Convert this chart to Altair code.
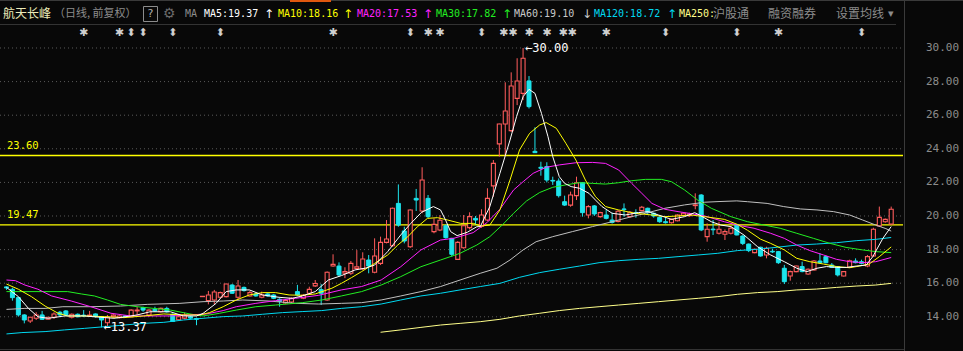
import altair as alt
import pandas as pd

W, H = 963, 351
BG = "#080808"
UP = "#ff5c5c"
DOWN = "#1de4ec"
MONO = "DejaVu Sans Mono"
CJK = "Noto Sans CJK SC"

# ---------------- data ----------------
opens = [15.78, 15.64, 15.14, 14.11, 13.75, 13.91, 14.11, 13.85, 13.97, 14.27,
         14.35, 13.97, 14.15, 14.10, 14.05, 14.17, 14.01, 13.65, 14.00, 13.95,
         14.05, 14.00, 14.35, 14.55, 14.10, 14.45, 14.30, 14.50, 14.15, 13.82,
         13.92, 14.00, 13.90, 15.20, 14.96, 15.00, 15.16, 15.20, 15.89, 15.16,
         15.75, 15.24, 15.36, 15.16, 15.36, 15.30, 15.04, 14.82, 14.88, 15.50,
         15.10, 15.40, 15.84, 15.62, 15.00, 17.02, 17.02, 16.60, 16.59, 16.88,
         16.85, 17.38, 16.65, 17.18, 18.43, 18.23, 20.75, 19.11, 18.17, 21.05,
         20.30, 21.05, 19.07, 19.17, 19.42, 18.67, 17.42, 18.11, 19.31, 19.86,
         19.40, 19.76, 21.79, 24.29, 25.48, 25.08, 27.00, 27.30, 28.04, 23.85,
         22.90, 22.94, 22.12, 22.08, 20.85, 20.65, 21.21, 21.98, 20.06, 20.60,
         19.96, 20.06, 19.76, 19.68, 20.42, 19.96, 20.20, 20.32, 20.46, 20.16,
         19.92, 19.66, 19.60, 19.72, 20.04, 20.02, 20.62, 21.25, 18.77, 19.22,
         18.97, 18.91, 18.97, 19.46, 18.81, 18.33, 17.82, 18.14, 17.68, 17.90,
         17.88, 16.89, 16.43, 16.69, 16.99, 16.55, 16.79, 17.32, 17.58, 17.08,
         16.99, 16.43, 16.94, 17.32, 17.28, 17.02, 17.62, 19.41, 19.66, 19.52]
highs = [15.80, 15.73, 15.20, 14.15, 14.00, 14.27, 14.35, 13.99, 14.27, 14.35,
         14.40, 14.20, 14.20, 14.40, 14.35, 14.20, 14.05, 14.11, 14.15, 14.10,
         14.10, 14.45, 14.60, 14.60, 14.45, 14.60, 14.55, 14.60, 14.20, 14.10,
         14.25, 14.05, 13.95, 15.22, 15.54, 15.60, 15.50, 15.97, 15.95, 16.19,
         15.80, 15.55, 15.40, 15.50, 15.40, 15.35, 15.10, 15.00, 15.15, 15.90,
         15.35, 15.79, 16.19, 15.95, 16.70, 17.72, 17.24, 16.95, 17.32, 17.97,
         17.84, 17.68, 18.67, 18.77, 19.76, 20.50, 21.88, 19.36, 20.40, 21.61,
         22.90, 21.25, 19.86, 20.06, 19.50, 18.70, 18.50, 20.06, 20.22, 20.00,
         20.40, 21.65, 23.33, 25.50, 27.96, 28.55, 29.39, 30.00, 28.33, 25.28,
         23.23, 23.20, 22.34, 22.24, 21.21, 21.45, 22.34, 22.00, 20.65, 20.65,
         20.25, 20.36, 20.20, 20.36, 20.75, 20.30, 20.40, 20.60, 20.50, 20.20,
         19.98, 19.92, 19.85, 20.10, 20.20, 20.20, 21.35, 21.30, 19.56, 19.76,
         19.66, 19.20, 19.40, 19.50, 18.85, 18.36, 18.06, 18.17, 18.17, 18.05,
         17.92, 17.09, 16.75, 17.05, 17.28, 16.88, 17.38, 17.78, 17.65, 17.20,
         17.02, 16.72, 17.40, 17.48, 17.40, 17.68, 19.30, 20.56, 19.85, 20.56]
lows = [15.60, 14.96, 14.01, 13.61, 13.63, 13.81, 13.81, 13.83, 13.87, 14.01,
        14.05, 13.90, 13.97, 13.98, 14.00, 13.95, 13.37, 13.45, 13.95, 13.90,
        13.95, 13.98, 14.10, 14.30, 14.00, 14.30, 14.25, 14.25, 13.70, 13.78,
        13.85, 13.88, 13.50, 15.18, 14.74, 14.76, 15.10, 15.15, 15.36, 15.00,
        15.50, 15.20, 15.20, 15.10, 15.20, 15.05, 14.60, 14.78, 14.82, 15.25,
        15.05, 15.35, 15.78, 14.70, 14.95, 16.98, 16.39, 16.30, 16.49, 16.80,
        16.80, 16.59, 16.59, 17.08, 18.37, 18.17, 19.36, 18.37, 18.10, 20.30,
        20.16, 19.86, 18.97, 19.10, 18.65, 17.58, 17.40, 18.05, 19.20, 19.46,
        19.30, 19.70, 21.15, 23.53, 23.57, 25.00, 26.60, 26.90, 26.40, 23.77,
        22.40, 22.00, 21.85, 21.10, 20.60, 20.55, 20.95, 19.96, 19.86, 20.00,
        19.90, 19.80, 19.55, 19.62, 19.96, 19.90, 19.90, 20.28, 20.10, 19.90,
        19.60, 19.55, 19.55, 19.68, 19.98, 19.95, 20.40, 19.10, 18.47, 18.87,
        18.90, 18.57, 18.90, 18.85, 18.27, 17.85, 17.78, 17.58, 17.48, 17.80,
        17.15, 15.95, 16.15, 16.65, 16.65, 16.50, 16.75, 17.18, 17.18, 16.90,
        16.40, 16.40, 16.90, 17.18, 17.12, 16.95, 17.58, 19.35, 19.60, 19.47]
closes = [15.72, 15.14, 14.11, 13.81, 13.97, 14.11, 13.85, 13.97, 14.17, 14.11,
          14.11, 14.15, 14.00, 14.05, 14.10, 14.01, 13.81, 13.97, 14.10, 14.05,
          14.00, 14.40, 14.40, 14.40, 14.40, 14.35, 14.50, 14.30, 13.72, 14.00,
          14.10, 13.92, 13.85, 15.22, 15.30, 15.48, 15.44, 15.95, 15.40, 15.83,
          15.56, 15.44, 15.24, 15.30, 15.24, 15.10, 14.92, 14.96, 15.10, 15.30,
          15.28, 15.63, 15.98, 15.40, 16.65, 17.12, 16.49, 16.70, 17.18, 16.98,
          17.44, 17.02, 17.62, 18.43, 18.63, 20.46, 19.46, 18.51, 20.36, 20.95,
          22.14, 19.96, 19.50, 19.75, 18.71, 17.72, 18.43, 19.42, 19.96, 19.76,
          20.06, 21.05, 23.13, 25.48, 26.25, 27.74, 28.04, 29.39, 26.51, 23.77,
          22.84, 22.14, 22.08, 21.21, 20.65, 21.25, 21.98, 20.20, 20.56, 20.12,
          20.20, 19.86, 19.62, 20.28, 20.38, 20.22, 20.15, 20.52, 20.20, 20.00,
          19.66, 19.60, 19.80, 20.06, 20.16, 20.12, 20.66, 19.17, 19.21, 19.18,
          19.21, 19.07, 19.27, 18.87, 18.37, 17.94, 18.02, 17.62, 18.08, 17.86,
          17.22, 16.09, 16.69, 17.02, 16.69, 16.83, 17.32, 17.22, 17.22, 16.94,
          16.49, 16.69, 17.34, 17.22, 17.18, 17.58, 19.21, 19.92, 19.80, 20.40]

ma5 = [(0, 15.75), (2, 15.2), (3.7, 14.5), (5.3, 14.0), (7, 13.91), (9.8, 14.05), (13.1, 14.05),
       (15.9, 13.97), (18.1, 13.91), (20, 14.0), (22, 14.11), (24.2, 14.3), (27.6, 14.3), (29.8, 14.05),
       (32, 14.05), (33.1, 14.2), (35.3, 14.8), (37, 15.5), (38.7, 15.6), (40.9, 15.6), (43.1, 15.3),
       (45.9, 15.16), (48.1, 15.1), (49.8, 15.24), (52, 15.5), (54.2, 16.19), (56.4, 16.45),
       (58.7, 16.79), (60.5, 16.9), (62, 17.08), (64.2, 17.88), (66.4, 18.87), (68.1, 19.56),
       (69.9, 20.22), (71.9, 20.56), (73.1, 20.36), (73.95, 19.76), (74.8, 19.07), (75.9, 18.83),
       (77.6, 19.03), (79.2, 19.36), (79.8, 19.37), (81.4, 20.56), (83.1, 22.54), (84.8, 24.52),
       (85.9, 25.91), (87, 27.1), (88, 27.54), (89, 27.3), (90.1, 26.11), (91.2, 24.72), (92, 23.53),
       (93.1, 22.34), (94, 21.94), (95.1, 21.75), (96.5, 21.65), (98.1, 21.35), (99.2, 20.95),
       (100.3, 20.56), (102, 20.16), (104.2, 20.06), (106.4, 20.2), (108.1, 20.26), (109.8, 20.06),
       (112, 19.8), (114.2, 19.96), (115.9, 20.2), (116.7, 20.06), (118.7, 19.66), (120.3, 19.46),
       (122, 19.37), (124.2, 18.87), (126.5, 18.17), (128.7, 17.68), (131, 17.28), (133.1, 16.89),
       (134.8, 16.69), (136.5, 16.89), (138.1, 16.99), (139.8, 16.94), (141.5, 16.94), (143.1, 17.02),
       (144.8, 17.08), (145.9, 17.58), (147.6, 18.67), (149, 19.37)]
ma10 = [(0, 15.95), (2, 15.64), (4.2, 15.2), (6.5, 14.64), (8.7, 14.21), (10.3, 14.05), (13.1, 14.05),
        (16.5, 14.01), (19.8, 13.95), (23.1, 14.05), (26.5, 14.17), (29.8, 14.11), (32.6, 14.11),
        (34.2, 14.25), (36.5, 14.6), (38.7, 15.0), (40.9, 15.3), (43.1, 15.44), (45.3, 15.44),
        (47.6, 15.3), (49.8, 15.28), (52, 15.36), (54.8, 15.7), (56.4, 15.99), (58.1, 16.33),
        (59.8, 16.69), (62, 17.18), (64.2, 17.68), (65.9, 18.27), (67.6, 18.77), (69.2, 19.36),
        (70.9, 19.86), (72.6, 19.9), (74.3, 19.76), (76.5, 19.56), (78.7, 19.56), (79.8, 19.4),
        (81.4, 19.46), (83.1, 20.36), (84.8, 22.14), (86.4, 23.93), (88.1, 24.92), (89.8, 25.42),
        (90.9, 25.56), (92.6, 25.22), (94.2, 24.33), (95.9, 23.33), (97.5, 22.14), (99.2, 21.15),
        (100.9, 20.56), (103.1, 20.36), (105.9, 20.16), (108.7, 20.06), (110.9, 19.96), (113.1, 20.0),
        (115.3, 20.06), (117.6, 19.96), (120.9, 19.8), (123.1, 19.5), (124.8, 19.15), (127, 18.62),
        (128.7, 18.37), (131, 17.98), (133.1, 17.48), (135.3, 17.28), (137.6, 17.14), (139.8, 16.99),
        (142, 16.92), (143.7, 17.02), (145.3, 17.14), (147, 17.58), (149, 18.16)]
ma20 = [(0, 16.19), (1.5, 16.15), (3.1, 15.89), (5.3, 15.64), (7.6, 15.24), (10.9, 14.94), (14.2, 14.6),
        (17.6, 14.21), (20.9, 14.05), (27.6, 14.05), (30.9, 14.11), (33.7, 14.17), (36.5, 14.37),
        (38.7, 14.6), (42, 14.8), (45.3, 14.96), (48.7, 15.1), (52.6, 15.28), (56.4, 15.6), (59.8, 15.8),
        (63.1, 16.19), (66.4, 16.98), (69.8, 17.98), (73.1, 18.57), (75.3, 18.67), (78.6, 19.01),
        (80.9, 19.6), (83.1, 20.4), (85.4, 21.55), (87, 22.04), (88.7, 22.54), (90.9, 22.9),
        (93.1, 23.04), (95.9, 23.17), (98.7, 23.19), (100.9, 23.13), (103.1, 22.74), (105.3, 21.94),
        (107, 21.35), (108.7, 20.75), (110.9, 20.4), (113.1, 20.26), (115.3, 20.14), (117.6, 20.0),
        (120.9, 19.66), (123.1, 19.46), (125.9, 19.27), (128.7, 18.97), (131, 18.67), (133.1, 18.27),
        (135.3, 17.94), (137.6, 17.68), (139.8, 17.42), (142, 17.28), (144.2, 17.22), (146.4, 17.28),
        (149, 17.53)]
ma30 = [(0, 15.5), (10.3, 15.5), (12.6, 15.36), (14.8, 15.24), (17, 15.0), (19.2, 14.74), (22, 14.6),
        (24.8, 14.5), (27.6, 14.4), (30.9, 14.17), (33.1, 14.05), (35.9, 14.21), (38.7, 14.4), (42, 14.6),
        (45.3, 14.7), (49.8, 14.84), (53.1, 15.0), (56.4, 15.24), (59.8, 15.5), (63.1, 15.89),
        (66.4, 16.39), (69.8, 16.98), (73.1, 17.38), (76.4, 17.78), (79.2, 18.27), (81.4, 18.77),
        (83.6, 19.5), (85.4, 20.16), (87.6, 20.9), (89.8, 21.4), (92, 21.71), (94.2, 21.85),
        (96.4, 21.98), (98.7, 21.94), (100.9, 21.9), (103.1, 21.98), (105.3, 22.1), (107.6, 22.18),
        (110.3, 22.18), (112, 22.04), (114.2, 21.55), (116.4, 20.95), (118.7, 20.46), (122, 19.96),
        (124.8, 19.66), (127.6, 19.46), (130.3, 19.27), (133.1, 18.97), (135.9, 18.67), (138.7, 18.37),
        (141.4, 18.13), (144.2, 17.98), (146.4, 17.88), (149, 17.82)]
ma60 = [(0, 14.44), (3.1, 14.5), (6.5, 14.5), (9.5, 14.6), (14.2, 14.6), (19.2, 14.64), (23.7, 14.74),
        (29.2, 14.8), (33.1, 14.9), (36.5, 14.94), (39.8, 15.0), (44.2, 14.94), (48.7, 14.8),
        (52.6, 14.76), (56.4, 14.8), (59.8, 14.84), (63.1, 15.0), (66.4, 15.24), (69.8, 15.5),
        (73.1, 15.8), (76.4, 16.19), (79.8, 16.59), (82.6, 16.89), (84.8, 17.38), (87, 17.98),
        (89.2, 18.47), (92, 18.77), (95.3, 19.07), (98.7, 19.37), (102, 19.66), (105.3, 19.96),
        (107.6, 20.16), (110.9, 20.46), (114.2, 20.66), (117.6, 20.82), (120, 20.86), (123, 20.9),
        (124.8, 20.85), (128.1, 20.75), (130.9, 20.56), (133.7, 20.42), (136.5, 20.36), (139.3, 20.26),
        (142, 20.06), (144.2, 19.76), (146.4, 19.46), (148.1, 19.25), (149, 19.1)]
ma120 = [(0, 12.98), (2.6, 13.06), (6.5, 13.12), (9.8, 13.22), (13.1, 13.31), (16.5, 13.41),
         (19.8, 13.51), (23.1, 13.61), (26.5, 13.67), (29.8, 13.81), (33.1, 13.91), (36.5, 14.01),
         (39.8, 14.05), (43.1, 14.15), (46.5, 14.25), (49.8, 14.31), (53.1, 14.37), (56.4, 14.5),
         (59.8, 14.6), (63.1, 14.76), (66.4, 15.0), (69.8, 15.24), (73.1, 15.4), (76.4, 15.6),
         (79.8, 15.8), (83.1, 15.99), (86.4, 16.35), (89.8, 16.63), (93.1, 16.83), (96.5, 17.02),
         (99.8, 17.22), (103.1, 17.34), (106.5, 17.42), (109.8, 17.48), (113.1, 17.58), (116.5, 17.68),
         (119.8, 17.78), (123.1, 17.94), (126.5, 18.02), (129.8, 18.14), (133.1, 18.27), (136.4, 18.33),
         (139.8, 18.41), (143.1, 18.53), (146.4, 18.61), (149, 18.72)]
ma250 = [(63, 13.08), (66.4, 13.22), (69.8, 13.37), (73.1, 13.51), (76.4, 13.61), (79.8, 13.71),
         (83.1, 13.85), (86.4, 14.05), (89.8, 14.21), (93.1, 14.37), (96.5, 14.5), (99.8, 14.6),
         (103.1, 14.7), (106.5, 14.8), (109.8, 14.9), (113.1, 15.0), (116.5, 15.1), (119.8, 15.2),
         (123.1, 15.34), (126.5, 15.44), (129.8, 15.5), (133.1, 15.6), (136.4, 15.65), (139.8, 15.75),
         (143.1, 15.83), (146.4, 15.89), (149, 15.99)]

y_ticks = [14, 16, 18, 20, 22, 24, 26, 28, 30]
levels = [23.60, 19.47]
star_idx = [13, 19, 55, 71, 73, 88, 91, 101, 130]
double_star_idx = [84.5, 94.5]
bar_idx = [21, 23, 28, 36, 68, 80, 111, 123, 144]
extremes = [(87, 30.00), (16, 13.37)]

ma_specs = [("MA250", ma250, "#ffff8a"), ("MA120", ma120, "#00d8f0"), ("MA60", ma60, "#c0c0c0"),
            ("MA30", ma30, "#22ee22"), ("MA20", ma20, "#ff22ff"), ("MA10", ma10, "#ffff00"),
            ("MA5", ma5, "#ffffff")]

header = [  # text, left x, color, font, size
    ("航天长峰", 3, "#ecebb8", CJK, 12),
    ("（日线, 前复权）", 54, "#8c8c8c", CJK, 11),
    ("?", 147, "#b0b0b0", MONO, 11),
    ("⚙", 163, "#6a6a6a", "DejaVu Sans", 14),
    ("MA", 185, "#8c8c8c", MONO, 10),
    ("MA5:19.37", 204, "#ffffff", MONO, 10),
    ("↑", 264, "#ffffff", "DejaVu Sans", 12),
    ("MA10:18.16", 278, "#ffff00", MONO, 10),
    ("↑", 343, "#ffff00", "DejaVu Sans", 12),
    ("MA20:17.53", 357, "#ff22ff", MONO, 10),
    ("↑", 423, "#ff22ff", "DejaVu Sans", 12),
    ("MA30:17.82", 436, "#22ee22", MONO, 10),
    ("↑", 502, "#22ee22", "DejaVu Sans", 12),
    ("MA60:19.10", 514, "#c8c8c8", MONO, 10),
    ("↓", 582, "#c8c8c8", "DejaVu Sans", 12),
    ("MA120:18.72", 594, "#00d8f0", MONO, 10),
    ("↑", 667, "#00d8f0", "DejaVu Sans", 12),
    ("MA250:", 679, "#ffff8a", MONO, 10),
    ("沪股通", 713, "#8c8c8c", CJK, 12),
    ("融资融券", 768, "#8c8c8c", CJK, 12),
    ("设置均线", 836, "#8c8c8c", CJK, 12),
    ("▾", 888, "#8c8c8c", "DejaVu Sans", 11),
]

# ---------------- chart ----------------
xs = alt.Scale(domain=[-0.25, 160.25], nice=False, zero=False)
ys = alt.Scale(domain=[11.964, 32.857], nice=False, zero=False)

n = len(closes)
assert len(opens) == n and len(highs) == n and len(lows) == n
df = pd.DataFrame({"i": list(range(n)), "o": opens, "h": highs, "l": lows, "c": closes})
df["dir"] = ["up" if c >= o else "down" for o, c in zip(opens, closes)]

X = alt.X("i:Q", scale=xs, axis=None)
dir_color = alt.Color("dir:N", scale=alt.Scale(domain=["up", "down"], range=[UP, DOWN]), legend=None)

one = pd.DataFrame({"k": [0]})
layers = []

# frame lines
layers.append(alt.Chart(one).mark_rule(color="#3a3a3a", strokeWidth=1).encode(
    x=alt.value(0), x2=alt.value(W), y=alt.value(0.5)))
layers.append(alt.Chart(one).mark_rule(color="#e0580f", strokeWidth=2).encode(
    x=alt.value(290), x2=alt.value(331), y=alt.value(1)))
layers.append(alt.Chart(one).mark_rule(color="#333333", strokeWidth=1).encode(
    x=alt.value(0), x2=alt.value(896), y=alt.value(24.5)))
layers.append(alt.Chart(one).mark_rule(color="#333333", strokeWidth=1).encode(
    x=alt.value(0), x2=alt.value(904), y=alt.value(349.5)))
layers.append(alt.Chart(one).mark_rule(color="#3a3a3a", strokeWidth=1).encode(
    x=alt.value(904.5), y=alt.value(0), y2=alt.value(H)))

# grid + right labels
tk = pd.DataFrame({"v": y_ticks, "t": [f"{v:.2f}" for v in y_ticks]})
layers.append(alt.Chart(tk).mark_rule(color="#5a5a5a", strokeWidth=1, strokeDash=[1, 3]).encode(
    y=alt.Y("v:Q", scale=ys, axis=None), x=alt.value(0), x2=alt.value(903)))
layers.append(alt.Chart(tk).mark_text(color="#8c8c8c", font=MONO, fontSize=11, align="left",
                                      baseline="middle").encode(
    y=alt.Y("v:Q", scale=ys, axis=None), x=alt.value(926), text="t:N"))

# level lines
lv = pd.DataFrame({"v": levels, "t": [f"{v:.2f}" for v in levels]})
layers.append(alt.Chart(lv).mark_rule(color="#ffff00", strokeWidth=1.3).encode(
    y=alt.Y("v:Q", scale=ys, axis=None), x=alt.value(0), x2=alt.value(903)))
layers.append(alt.Chart(lv).mark_text(color="#ffff00", font=MONO, fontSize=10.5, align="left",
                                      baseline="middle", dy=-10).encode(
    y=alt.Y("v:Q", scale=ys, axis=None), x=alt.value(7), text="t:N"))

# candles
base = alt.Chart(df)
layers.append(base.mark_rule(strokeWidth=1).encode(
    x=X, y=alt.Y("l:Q", scale=ys, axis=None), y2="h:Q", color=dir_color))
layers.append(base.transform_filter("datum.dir == 'up'").mark_bar(
    size=4, fill=BG, stroke=UP, strokeWidth=1.1).encode(
    x=X, y=alt.Y("o:Q", scale=ys, axis=None), y2="c:Q"))
layers.append(base.transform_filter("datum.dir == 'down'").mark_bar(
    size=4, fill=DOWN, stroke=DOWN, strokeWidth=1).encode(
    x=X, y=alt.Y("o:Q", scale=ys, axis=None), y2="c:Q"))

# moving averages
for name, pts, col in ma_specs:
    d = pd.DataFrame(pts, columns=["i", "v"])
    layers.append(alt.Chart(d).mark_line(color=col, strokeWidth=1).encode(
        x=X, y=alt.Y("v:Q", scale=ys, axis=None)))

# extreme labels
ex = pd.DataFrame({"i": [e[0] for e in extremes], "v": [e[1] for e in extremes],
                   "t": ["←" + f"{e[1]:.2f}" for e in extremes]})
layers.append(alt.Chart(ex).mark_text(color="#ffffff", font=MONO, fontSize=12, align="left",
                                      baseline="middle", dx=2).encode(
    x=X, y=alt.Y("v:Q", scale=ys, axis=None), text="t:N"))

# marker row
mk = pd.DataFrame({"i": star_idx + double_star_idx + bar_idx,
                   "g": ["✱"] * len(star_idx) + ["✱✱"] * len(double_star_idx) + ["⬍"] * len(bar_idx)})
layers.append(alt.Chart(mk).mark_text(color="#d0d0d0", font="DejaVu Sans", fontSize=11,
                                      align="center", baseline="middle").encode(
    x=X, y=alt.value(33), text="g:N"))

# header
layers.append(alt.Chart(one).mark_rect(fill=None, stroke="#8c8c8c", strokeWidth=1).encode(
    x=alt.value(143.5), x2=alt.value(157.5), y=alt.value(6.5), y2=alt.value(21.5)))
for txt, hx, col, fnt, fs in header:
    layers.append(alt.Chart(one).mark_text(color=col, font=fnt, fontSize=fs, align="left",
                                           baseline="middle").encode(
        x=alt.value(hx), y=alt.value(14), text=alt.value(txt)))

chart = alt.layer(*layers).properties(
    width=W, height=H, background=BG, padding=0,
    autosize=alt.AutoSizeParams(type="none"),
).configure_view(stroke=None)

chart.save("out.html", embed_options={"renderer": "svg", "actions": False})
